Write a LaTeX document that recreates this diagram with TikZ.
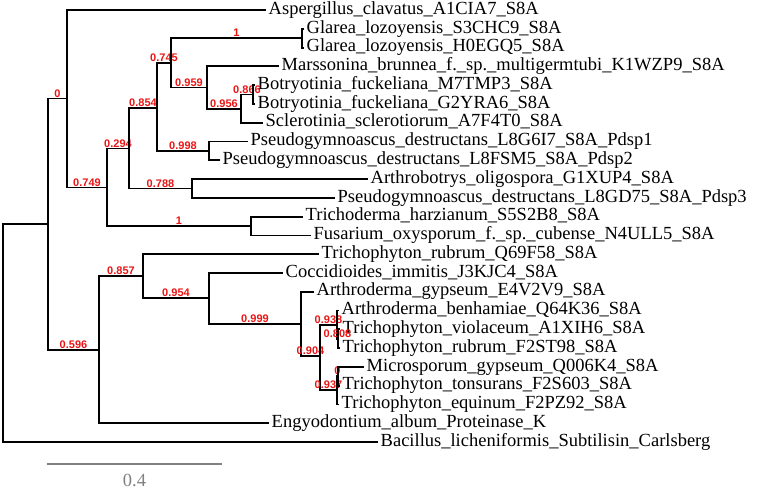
\documentclass[tikz,border=0pt]{standalone}
\usepackage{fontspec}
\setmainfont{Liberation Serif}
\newfontfamily\labfont{Liberation Sans}
\definecolor{bargray}{RGB}{128,128,128}
\definecolor{labred}{RGB}{235,20,20}
\tikzset{
  br/.style={line width=1.8pt, black, line cap=rect, line join=miter},
  leaf/.style={anchor=west, inner xsep=3.5pt, inner ysep=0pt, font=\fontsize{18.5}{18.5}\selectfont, text height=12.5pt, text depth=4pt},
  bs/.style={pos=0.75, anchor=base, yshift=1.4pt, inner sep=0pt, text=labred, font=\labfont\bfseries\fontsize{11}{11}\selectfont},
  scalebar/.style={line width=1.4pt, bargray},
  sblab/.style={inner sep=0pt, text=bargray, font=\fontsize{18.5}{18.5}\selectfont, text depth=0pt}
}
\begin{document}
\begin{tikzpicture}[x=1pt,y=-1pt]
\useasboundingbox (0,0) rectangle (760,490);
% internal nodes
\coordinate (root) at (3,333);
\coordinate (A) at (48,224);
\coordinate (B) at (67,98.5);
\coordinate (C) at (107,187.5);
\coordinate (D) at (129,148.5);
\coordinate (E) at (157,107.7);
\coordinate (F) at (171,62.8);
\coordinate (G) at (302,38.2);
\coordinate (H) at (207,87.5);
\coordinate (I) at (241,108.6);
\coordinate (J) at (253,94.5);
\coordinate (K) at (209,150.9);
\coordinate (K2) at (192,188.4);
\coordinate (L) at (251,226);
\coordinate (M) at (99,349.7);
\coordinate (N) at (143,276);
\coordinate (O) at (209,298);
\coordinate (P) at (301,324);
\coordinate (Q) at (320,356);
\coordinate (R) at (337,324.6);
\coordinate (S) at (338,338.7);
\coordinate (T) at (337,390);
\coordinate (U) at (338,376.2);
% leaves
\node[leaf] (l1) at (265,10) {Aspergillus\_clavatus\_A1CIA7\_S8A};
\node[leaf] (l2) at (303,28.8) {Glarea\_lozoyensis\_S3CHC9\_S8A};
\node[leaf] (l3) at (303,47.6) {Glarea\_lozoyensis\_H0EGQ5\_S8A};
\node[leaf] (l4) at (278,66.3) {Marssonina\_brunnea\_f.\_sp.\_multigermtubi\_K1WZP9\_S8A};
\node[leaf] (l5) at (254,85.1) {Botryotinia\_fuckeliana\_M7TMP3\_S8A};
\node[leaf] (l6) at (254,103.9) {Botryotinia\_fuckeliana\_G2YRA6\_S8A};
\node[leaf] (l7) at (262,122.7) {Sclerotinia\_sclerotiorum\_A7F4T0\_S8A};
\node[leaf] (l8) at (247,141.5) {Pseudogymnoascus\_destructans\_L8G6I7\_S8A\_Pdsp1};
\node[leaf] (l9) at (219,160.2) {Pseudogymnoascus\_destructans\_L8FSM5\_S8A\_Pdsp2};
\node[leaf] (l10) at (367,179) {Arthrobotrys\_oligospora\_G1XUP4\_S8A};
\node[leaf] (l11) at (334,197.8) {Pseudogymnoascus\_destructans\_L8GD75\_S8A\_Pdsp3};
\node[leaf] (l12) at (302,216.6) {Trichoderma\_harzianum\_S5S2B8\_S8A};
\node[leaf] (l13) at (310,235.4) {Fusarium\_oxysporum\_f.\_sp.\_cubense\_N4ULL5\_S8A};
\node[leaf] (l14) at (318,254.1) {Trichophyton\_rubrum\_Q69F58\_S8A};
\node[leaf] (l15) at (282,272.9) {Coccidioides\_immitis\_J3KJC4\_S8A};
\node[leaf] (l16) at (313,291.7) {Arthroderma\_gypseum\_E4V2V9\_S8A};
\node[leaf] (l17) at (338,310.5) {Arthroderma\_benhamiae\_Q64K36\_S8A};
\node[leaf] (l18) at (339,329.3) {Trichophyton\_violaceum\_A1XIH6\_S8A};
\node[leaf] (l19) at (339,348) {Trichophyton\_rubrum\_F2ST98\_S8A};
\node[leaf] (l20) at (363,366.8) {Microsporum\_gypseum\_Q006K4\_S8A};
\node[leaf] (l21) at (339,385.6) {Trichophyton\_tonsurans\_F2S603\_S8A};
\node[leaf] (l22) at (338,404.4) {Trichophyton\_equinum\_F2PZ92\_S8A};
\node[leaf] (l23) at (268,423.2) {Engyodontium\_album\_Proteinase\_K};
\node[leaf] (l24) at (377,442) {Bacillus\_licheniformis\_Subtilisin\_Carlsberg};
% branches
\draw[br] (root) |- (A);
\draw[br] (root) |- (l24.west);
\draw[br] (A) |- node[bs] {0} (B);
\draw[br] (A) |- node[bs] {0.596} (M);
\draw[br] (B) |- (l1.west);
\draw[br] (B) |- node[bs] {0.749} (C);
\draw[br] (C) |- node[bs] {0.294} (D);
\draw[br] (C) |- node[bs] {1} (L);
\draw[br] (D) |- node[bs] {0.854} (E);
\draw[br] (D) |- node[bs] {0.788} (K2);
\draw[br] (E) |- node[bs] {0.745} (F);
\draw[br] (E) |- node[bs] {0.998} (K);
\draw[br] (F) |- node[bs] {1} (G);
\draw[br] (F) |- node[bs] {0.959} (H);
\draw[br] (G) |- (l2.west);
\draw[br] (G) |- (l3.west);
\draw[br] (H) |- (l4.west);
\draw[br] (H) |- node[bs] {0.956} (I);
\draw[br] (I) |- node[bs] {0.866} (J);
\draw[br] (I) |- (l7.west);
\draw[br] (J) |- (l5.west);
\draw[br] (J) |- (l6.west);
\draw[br] (K) |- (l8.west);
\draw[br] (K) |- (l9.west);
\draw[br] (K2) |- (l10.west);
\draw[br] (K2) |- (l11.west);
\draw[br] (L) |- (l12.west);
\draw[br] (L) |- (l13.west);
\draw[br] (M) |- node[bs] {0.857} (N);
\draw[br] (M) |- (l23.west);
\draw[br] (N) |- (l14.west);
\draw[br] (N) |- node[bs] {0.954} (O);
\draw[br] (O) |- (l15.west);
\draw[br] (O) |- node[bs] {0.999} (P);
\draw[br] (P) |- (l16.west);
\draw[br] (P) |- node[bs] {0.904} (Q);
\draw[br] (Q) |- node[bs] {0.938} (R);
\draw[br] (Q) |- node[bs] {0.937} (T);
\draw[br] (R) |- (l17.west);
\draw[br] (R) |- node[bs] {0.808} (S);
\draw[br] (S) |- (l18.west);
\draw[br] (S) |- (l19.west);
\draw[br] (T) |- node[bs] {0} (U);
\draw[br] (T) |- (l22.west);
\draw[br] (U) |- (l20.west);
\draw[br] (U) |- (l21.west);
% scale bar
\coordinate (sb1) at (47,464);
\coordinate (sb2) at (222,464);
\draw[scalebar] (sb1) -- (sb2);
\node[sblab] (sbl) at (134.5,480.5) {0.4};
\end{tikzpicture}
\end{document}
